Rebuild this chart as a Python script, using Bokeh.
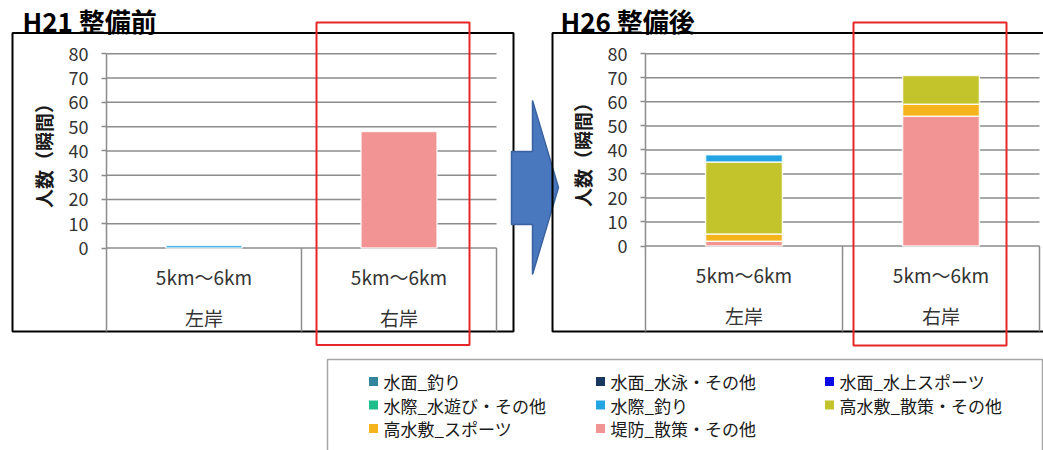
import numpy as np
from bokeh.plotting import figure
from bokeh.models import Range1d, LinearAxis, FixedTicker
from bokeh.core.properties import value
from bokeh.embed import file_html
from bokeh.resources import INLINE

# ---------------- data ----------------
banks = ["左岸", "右岸"]
sections = ["5km～6km", "5km～6km"]
series = ["水面_釣り", "水面_水泳・その他", "水面_水上スポーツ",
          "水際_水遊び・その他", "水際_釣り", "高水敷_散策・その他",
          "高水敷_スポーツ", "堤防_散策・その他"]
colors = ["#31859c", "#17375e", "#0a0ae6", "#1cbf8c", "#22a5e2",
          "#c3c32c", "#f5b41c", "#f29494"]
# values in series order, per bank
h21_left = [0, 0, 0, 0, 1, 0, 0, 0]
h21_right = [0, 0, 0, 0, 0, 0, 0, 48]
h26_left = [0, 0, 0, 0, 3, 30, 3, 2]
h26_right = [0, 0, 0, 0, 0, 12, 5, 54]
y_ticks = [0, 10, 20, 30, 40, 50, 60, 70, 80]
titles = ["H21 整備前", "H26 整備後"]
y_title = "人数（瞬間）"

# ---------------- layout / style ----------------
W, H = 1043, 450
FONT = "Noto Sans CJK JP"
GRID = "#8c8c8c"

charts = [
    dict(title=titles[0], values=[h21_left, h21_right], title_xy=(22, 20),
         box=(12, 32.5, 513, 331), red=(316, 22, 469, 344.5),
         x0=106, cw=195, y0px=247.5, ytop=53.3),
    dict(title=titles[1], values=[h26_left, h26_right], title_xy=(560, 20),
         box=(552, 32.5, 1045, 331), red=(853, 22, 1006, 345),
         x0=645, cw=197, y0px=245.5, ytop=53.3),
]

p = figure(width=W, height=H, x_range=Range1d(0, W), y_range=Range1d(H, 0),
           min_border=0, x_axis_location=None, y_axis_location=None,
           toolbar_location=None, output_backend="svg",
           outline_line_color=None, background_fill_color="white",
           border_fill_color="white")
p.grid.visible = False

arrow_x = [511, 532, 532, 558, 532, 532, 511]
arrow_y = [151, 151, 100, 187, 274, 224, 224]

for i, c in enumerate(charts):
    xr, yr = f"x{i}", f"y{i}"
    k = (c["y0px"] - c["ytop"]) / (y_ticks[-1] - y_ticks[0])
    p.extra_x_ranges[xr] = Range1d(-c["x0"] / c["cw"], (W - c["x0"]) / c["cw"])
    p.extra_y_ranges[yr] = Range1d((c["y0px"] - H) / k, c["y0px"] / k)
    n = len(banks)

    # outer black frame
    l, t, r, b = c["box"]
    p.quad(left=[l], right=[r], top=[t], bottom=[b], fill_color=None,
           line_color="black", line_width=2)

    # gridlines
    p.segment(x0=[0] * len(y_ticks), x1=[n] * len(y_ticks), y0=y_ticks, y1=y_ticks,
              x_range_name=xr, y_range_name=yr, line_color=GRID, line_width=1.5)
    # category separators
    seps = np.arange(n + 1)
    bottom_val = (c["y0px"] - b) / k
    p.segment(x0=seps, x1=seps, y0=[0] * (n + 1), y1=[bottom_val] * (n + 1),
              x_range_name=xr, y_range_name=yr, line_color=GRID, line_width=1.5)

    # stacked bars (last series at bottom)
    bx, bb, bt, bc = [], [], [], []
    for j, vals in enumerate(c["values"]):
        cum = 0
        for s in reversed(range(len(series))):
            v = vals[s]
            if v > 0:
                bx.append(j + 0.5)
                bb.append(cum)
                bt.append(cum + v)
                bc.append(colors[s])
                cum += v
    p.vbar(x=bx, bottom=bb, top=bt, width=0.39, fill_color=bc,
           line_color="white", line_width=1.5, line_alpha=0.8,
           x_range_name=xr, y_range_name=yr)

    # y axis
    ax = LinearAxis(x_range_name=xr, y_range_name=yr, fixed_location=0,
                    ticker=FixedTicker(ticks=y_ticks),
                    bounds=(y_ticks[0], y_ticks[-1]))
    ax.axis_line_color = GRID
    ax.axis_line_width = 1.5
    ax.major_tick_line_color = GRID
    ax.major_tick_line_width = 1.5
    ax.major_tick_out = 5
    ax.major_tick_in = 0
    ax.minor_tick_out = 0
    ax.minor_tick_in = 0
    ax.major_label_text_font = FONT
    ax.major_label_text_font_size = "18px"
    ax.major_label_text_color = "#333333"
    ax.major_label_standoff = 13
    ax.axis_label = y_title
    ax.axis_label_text_font = FONT
    ax.axis_label_text_font_style = "bold"
    ax.axis_label_text_font_size = "19px"
    ax.axis_label_text_color = "#1a1a1a"
    ax.axis_label_standoff = 9
    p.add_layout(ax, "left")

    # category labels
    cx = np.arange(n) + 0.5
    p.text(x=cx, y=[0] * n, text=sections, y_offset=28.5,
           x_range_name=xr, y_range_name=yr,
           text_font=value(FONT), text_font_size=value("19px"),
           text_color="#333333", text_align="center", text_baseline="middle")
    p.text(x=cx, y=[0] * n, text=banks, y_offset=69.5,
           x_range_name=xr, y_range_name=yr,
           text_font=value(FONT), text_font_size=value("19px"),
           text_color="#333333", text_align="center", text_baseline="middle")

    # title
    tx, ty = c["title_xy"]
    p.text(x=[tx], y=[ty], text=[c["title"]], text_font=value(FONT),
           text_font_size=value("26px"), text_font_style="bold",
           text_color="black", text_align="left", text_baseline="middle")

    if i == 0:
        p.patch(arrow_x, arrow_y, fill_color="#4a78be", line_color="#3a62a0",
                line_width=1.5)

# red highlight boxes
for c in charts:
    l, t, r, b = c["red"]
    p.quad(left=[l], right=[r], top=[t], bottom=[b], fill_color=None,
           line_color="#e8262a", line_width=2)

# legend
p.quad(left=[327], right=[1042], top=[359], bottom=[460], fill_color=None,
       line_color="#a6a6a6", line_width=1.5)
legend_cols = [373, 600, 829]
legend_rows = [381, 404.5, 428]
mx = [legend_cols[i % 3] for i in range(len(series))]
my = [legend_rows[i // 3] for i in range(len(series))]
p.scatter(x=mx, y=my, marker="square", size=9, fill_color=colors,
          line_color=None)
p.text(x=[v + 10 for v in mx], y=my, text=series, text_font=value(FONT),
       text_font_size=value("17px"), text_color="#1a1a1a",
       text_align="left", text_baseline="middle")

open("out.html", "w").write(file_html(p, INLINE))
